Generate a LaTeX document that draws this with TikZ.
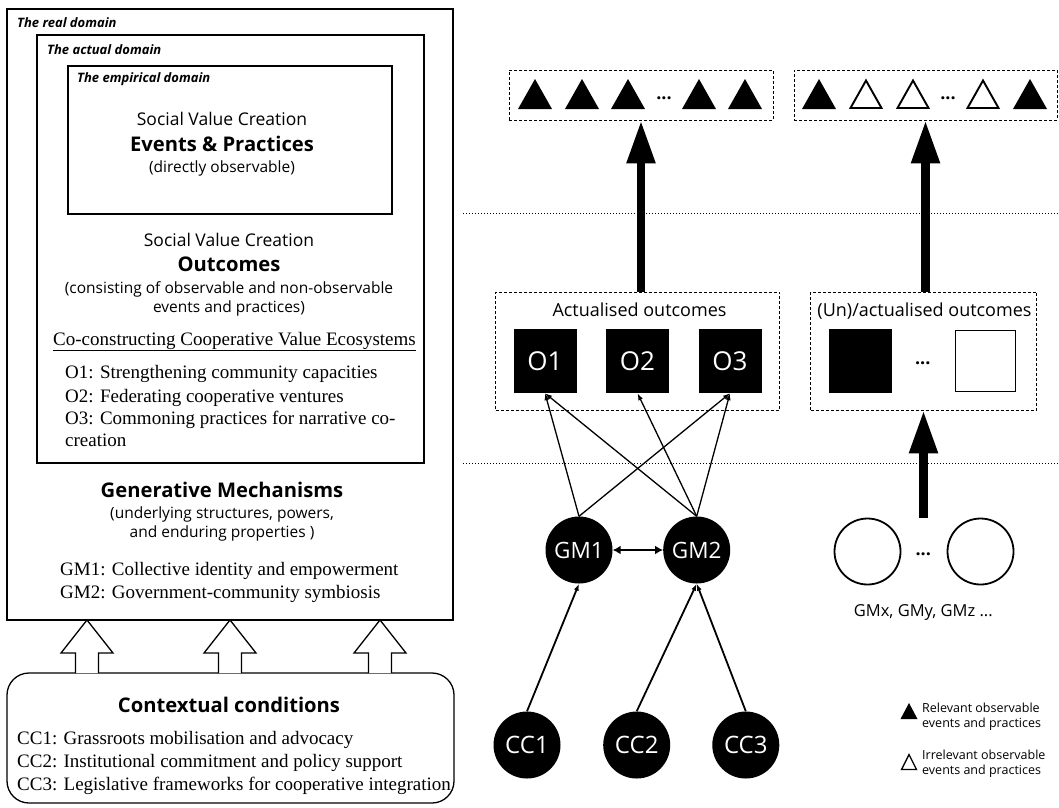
\documentclass[tikz,border=0pt]{standalone}
\usepackage{fontspec}
\setmainfont{Liberation Serif}
\setsansfont{Open Sans}
\usetikzlibrary{arrows.meta,shapes.geometric}
\begin{document}
\begin{tikzpicture}[x=1pt,y=-1pt,
  box/.style={draw, line width=1.3pt, inner sep=0pt},
  dlab/.style={anchor=base west, inner sep=0pt, font=\sffamily\bfseries\itshape\fontsize{13}{15}\selectfont},
  ss/.style={anchor=base, inner sep=0pt, font=\sffamily\fontsize{#1}{#1}\selectfont},
  sb/.style={anchor=base, inner sep=0pt, font=\sffamily\bfseries\fontsize{#1}{#1}\selectfont},
  sr/.style={anchor=base west, inner sep=0pt, font=\fontsize{19}{21}\selectfont},
  leg/.style={anchor=base west, inner sep=0pt, font=\sffamily\fontsize{12.5}{13}\selectfont},
  dbox/.style={draw, dash pattern=on 3pt off 2pt, line width=0.9pt, inner sep=0pt},
  sepline/.style={line width=1.3pt, dash pattern=on 1.3pt off 1.7pt},
  bigarrow/.style={line width=8.5pt, -{Triangle[width=27pt,length=43pt]}},
  conn/.style={line width=1.3pt, -{Latex[length=7pt,width=5pt]}},
  osq/.style={fill=black, minimum width=63pt, minimum height=64pt, inner sep=0pt, text=white, font=\sffamily\fontsize{26}{26}\selectfont},
  gmc/.style={circle, fill=black, minimum size=67pt, inner sep=0pt, text=white, font=\sffamily\fontsize{22.5}{22.5}\selectfont},
  ccc/.style={circle, fill=black, minimum size=67pt, inner sep=0pt, text=white, font=\sffamily\fontsize{24}{24}\selectfont},
  ftri/.pic={\fill (-17,15) -- (0,-15) -- (17,15) -- cycle;},
  htri/.pic={\draw[line width=1.9pt, line join=miter] (-15.5,14) -- (0,-13.5) -- (15.5,14) -- cycle;},
  lftri/.pic={\fill (-8.5,8) -- (0,-8) -- (8.5,8) -- cycle;},
  lhtri/.pic={\draw[line width=1.3pt, line join=miter] (-7.5,7.5) -- (0,-7.5) -- (7.5,7.5) -- cycle;},
  hollowup/.pic={\draw[line width=1.3pt, fill=white, line join=miter] (-11.5,0) -- (-11.5,-20) -- (-26,-20) -- (0,-53) -- (26,-20) -- (11.5,-20) -- (11.5,0);}
]
\useasboundingbox[fill=white] (0,0) rectangle (1059,807);

% ---------- left: domains ----------
\node[box, minimum width=446pt, minimum height=611pt] (real) at (230,314.5) {};
\node[box, minimum width=387pt, minimum height=428pt] (actual) at (230.5,249) {};
\node[box, minimum width=324pt, minimum height=148pt] (emp) at (230,140) {};

\node[dlab] (lreal) at (17,27) {The real domain};
\node[dlab] (lact) at (47,54) {The actual domain};
\node[dlab] (lemp) at (77,82) {The empirical domain};

\node[ss=17.5] (svc1) at (222,125) {Social Value Creation};
\node[sb=20.2] (evp) at (222,151) {Events \& Practices};
\node[ss=15.5] (dobs) at (222,172) {(directly observable)};

\node[ss=17.5] (svc2) at (229,246) {Social Value Creation};
\node[sb=20.2] (outc) at (229,271) {Outcomes};
\node[ss=15.5] (cons1) at (229,293) {(consisting of observable and non-observable};
\node[ss=15.5] (cons2) at (229,312) {events and practices)};
\node[anchor=base, inner sep=0pt, font=\fontsize{19}{21}\selectfont] (ccve) at (234.5,345) {\underline{Co-constructing Cooperative Value Ecosystems}};
\node[sr] (o1t) at (65,378) {O1: Strengthening community capacities};
\node[sr] (o2t) at (65,402) {O2: Federating cooperative ventures};
\node[sr] (o3t) at (65,424) {O3: Commoning practices for narrative co-};
\node[sr] (o3b) at (65,446) {creation};

\node[sb=20.2] (genm) at (222,497) {Generative Mechanisms};
\node[ss=15.5] (und1) at (222,518) {(underlying structures, powers,};
\node[ss=15.5] (und2) at (222,537) {and enduring properties )};
\node[sr] (gm1t) at (60,575) {GM1: Collective identity and empowerment};
\node[sr] (gm2t) at (60,598) {GM2: Government-community symbiosis};

% ---------- contextual conditions ----------
\node[box, rounded corners=22pt, minimum width=447pt, minimum height=130pt] (ccbox) at (230.5,738) {};
\pic at (87,673) {hollowup};
\pic at (230,673) {hollowup};
\pic at (380,673) {hollowup};
\node[sb=20.2] (ctx) at (229,712) {Contextual conditions};
\node[sr] (cc1t) at (17,744) {CC1: Grassroots mobilisation and advocacy};
\node[sr] (cc2t) at (17,767) {CC2: Institutional commitment and policy support};
\node[sr] (cc3t) at (17,790) {CC3: Legislative frameworks for cooperative integration};

% ---------- right side ----------
\draw[sepline] (463,213.3) -- (1059,213.3);
\draw[sepline] (463,463.3) -- (1059,463.3);

\node[dbox, minimum width=264pt, minimum height=50pt] (tbox1) at (641,95) {};
\node[dbox, minimum width=263pt, minimum height=50pt] (tbox2) at (925.5,95) {};
\pic at (535,94) {ftri};
\pic at (582,94) {ftri};
\pic at (628,94) {ftri};
\node[sb=18] (tdots1) at (664,99) {...};
\pic at (699,94) {ftri};
\pic at (745,94) {ftri};
\pic at (819,94) {ftri};
\pic at (866,94) {htri};
\pic at (913,94) {htri};
\node[sb=18] (tdots2) at (948,99) {...};
\pic at (983,94) {htri};
\pic at (1030,94) {ftri};

\node[dbox, minimum width=284pt, minimum height=118pt] (ao) at (637.5,351) {};
\node[dbox, minimum width=226pt, minimum height=118pt] (uo) at (923.7,351) {};
\node[ss=18] (aot) at (639.5,316) {Actualised outcomes};
\node[ss=18] (uot) at (924.5,316) {(Un)/actualised outcomes};

\node[osq] (O1) at (545,361) {O1};
\node[osq] (O2) at (637.5,361) {O2};
\node[osq] (O3) at (730,361) {O3};
\node[osq] (Ob) at (860,361) {};
\node[sb=18] (odots) at (922.7,364) {...};
\node[osq, fill=white, draw, line width=1.8pt, minimum width=60pt, minimum height=61pt] (Ow) at (985.5,361) {};

\draw[bigarrow] (tbox1.south |- ao.north) -- (tbox1.south);
\draw[bigarrow] (tbox2.south |- uo.north) -- (tbox2.south);

\node[gmc] (GM1) at (579,550) {GM1};
\node[gmc] (GM2) at (696.7,550) {GM2};
\node[gmc, fill=white, draw, line width=1.8pt, minimum size=66pt] (GMa) at (867.5,551.5) {};
\node[sb=18] (gdots) at (923.3,555) {...};
\node[gmc, fill=white, draw, line width=1.8pt, minimum size=66pt] (GMb) at (980.5,551.5) {};
\node[ss=16.5] (gmxt) at (923.3,616.7) {GMx, GMy, GMz ...};
\coordinate (gmxtop) at (923.5,518);
\draw[bigarrow] (gmxtop) -- (gmxtop |- uo.south);

\draw[conn] (GM1.north) -- (O1.south);
\draw[conn] (GM1.north) -- (O3.south);
\draw[conn] (GM2.north) -- (O1.south);
\draw[conn] (GM2.north) -- (O2.south);
\draw[conn] (GM2.north) -- (O3.south);
\draw[line width=2.6pt, {Latex[length=8pt,width=9pt]}-{Latex[length=8pt,width=9pt]}] (GM1.east) -- (GM2.west);

\node[ccc] (CC1) at (527,745) {CC1};
\node[ccc] (CC2) at (636.7,745) {CC2};
\node[ccc] (CC3) at (745.8,745) {CC3};
\draw[conn, line width=1.8pt] (CC1.north) -- (GM1.south);
\draw[conn, line width=1.8pt] (CC2.north) -- (GM2.south);
\draw[conn, line width=1.8pt] (CC3.north) -- (GM2.south);

% ---------- legend ----------
\pic at (909,711) {lftri};
\node[leg] (l1a) at (922,712) {Relevant observable};
\node[leg] (l1b) at (922,727) {events and practices};
\pic at (909,762) {lhtri};
\node[leg] (l2a) at (922,759) {Irrelevant observable};
\node[leg] (l2b) at (922,774) {events and practices};
\end{tikzpicture}
\end{document}
